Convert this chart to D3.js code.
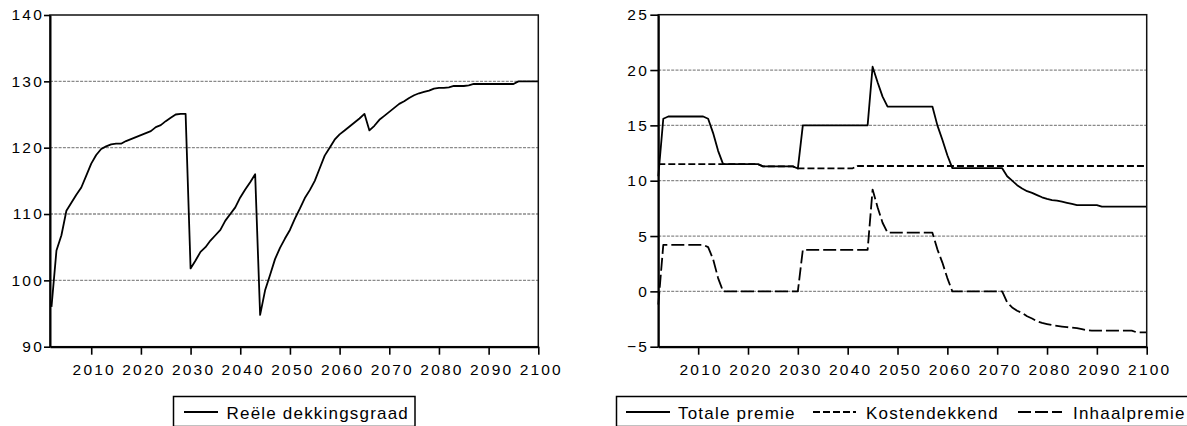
<!DOCTYPE html>
<html><head><meta charset="utf-8">
<script src="https://cdn.jsdelivr.net/npm/d3@7"></script>
<style>
body{margin:0;background:#fff}
svg{display:block}
text{font-family:"Liberation Sans",Arial,sans-serif;fill:#000}
</style>
</head><body>
<svg id="c" width="1187" height="426"></svg>
<script>
// ---------- data ----------
const years = d3.range(2002, 2101);

const dekkingsgraad = [
  96.0,104.5,106.8,110.5,111.7,112.9,114.0,115.8,117.6,118.9,
  119.8,120.2,120.5,120.6,120.6,121.0,121.3,121.6,121.9,122.2,
  122.5,123.1,123.4,124.0,124.5,125.0,125.1,125.1,101.8,103.0,
  104.3,105.0,106.0,106.8,107.6,109.0,110.0,111.0,112.5,113.7,
  114.8,116.0,94.8,98.5,100.8,103.2,104.9,106.3,107.6,109.3,
  110.8,112.4,113.6,115.0,116.9,118.8,120.0,121.2,122.0,122.6,
  123.2,123.8,124.4,125.1,122.6,123.3,124.2,124.8,125.4,126.0,
  126.6,127.0,127.5,127.9,128.2,128.4,128.6,128.9,129.0,129.0,
  129.1,129.3,129.3,129.3,129.4,129.6,129.6,129.6,129.6,129.6,
  129.6,129.6,129.6,129.6,130.0,130.0,130.0,130.0,130.0
];

const totalePremie = [
  10.4,15.6,15.8,15.8,15.8,15.8,15.8,15.8,15.8,15.8,
  15.6,14.3,12.7,11.5,11.5,11.5,11.5,11.5,11.5,11.5,
  11.5,11.3,11.3,11.3,11.3,11.3,11.3,11.3,11.1,15.0,
  15.0,15.0,15.0,15.0,15.0,15.0,15.0,15.0,15.0,15.0,
  15.0,15.0,15.0,20.3,18.9,17.6,16.7,16.7,16.7,16.7,
  16.7,16.7,16.7,16.7,16.7,16.7,15.0,13.7,12.3,11.13,
  11.13,11.13,11.13,11.13,11.13,11.13,11.13,11.13,11.13,11.13,
  10.4,10.0,9.6,9.3,9.05,8.9,8.7,8.5,8.35,8.25,
  8.2,8.1,8.0,7.9,7.8,7.8,7.8,7.8,7.8,7.66,
  7.66,7.66,7.66,7.66,7.66,7.66,7.66,7.66,7.66
];

const kostendekkend = [
  11.5,11.5,11.5,11.5,11.5,11.5,11.5,11.5,11.5,11.5,
  11.5,11.5,11.5,11.5,11.5,11.5,11.5,11.5,11.5,11.5,
  11.5,11.3,11.3,11.3,11.3,11.3,11.3,11.3,11.12,11.12,
  11.12,11.12,11.12,11.12,11.12,11.12,11.12,11.12,11.12,11.12,
  11.33,11.33,11.33,11.33,11.33,11.33,11.33,11.33,11.33,11.33,
  11.33,11.33,11.33,11.33,11.33,11.33,11.33,11.33,11.33,11.33,
  11.33,11.33,11.33,11.33,11.33,11.33,11.33,11.33,11.33,11.33,
  11.33,11.33,11.33,11.33,11.33,11.33,11.33,11.33,11.33,11.33,
  11.33,11.33,11.33,11.33,11.33,11.33,11.33,11.33,11.33,11.33,
  11.33,11.33,11.33,11.33,11.33,11.33,11.33,11.33,11.33
];

const inhaalpremie = [
  -1.2,4.2,4.2,4.2,4.2,4.2,4.2,4.2,4.2,4.2,
  4.0,2.9,1.2,0,0,0,0,0,0,0,
  0,0,0,0,0,0,0,0,0,3.75,
  3.75,3.75,3.75,3.75,3.75,3.75,3.75,3.75,3.75,3.75,
  3.75,3.75,3.75,9.2,7.6,6.2,5.3,5.3,5.3,5.3,
  5.3,5.3,5.3,5.3,5.3,5.3,3.8,2.6,1.2,0,
  0,0,0,0,0,0,0,0,0,0,
  -1.0,-1.45,-1.75,-1.95,-2.25,-2.45,-2.7,-2.85,-2.95,-3.05,
  -3.12,-3.18,-3.23,-3.28,-3.33,-3.42,-3.5,-3.55,-3.55,-3.55,
  -3.55,-3.55,-3.55,-3.55,-3.55,-3.55,-3.7,-3.7,-3.7
];

const xTickValues = [2010,2020,2030,2040,2050,2060,2070,2080,2090,2100];
const leftYTicks = [90,100,110,120,130,140];
const rightYTicks = [-5,0,5,10,15,20,25];
const leftLegendLabels = ["Reële dekkingsgraad"];
const rightLegendLabels = ["Totale premie","Kostendekkend","Inhaalpremie"];

// ---------- drawing ----------
const svg = d3.select("#c");

function panel(o) {
  const g = svg.append("g");
  const x = d3.scaleLinear().domain([o.x0, 2100]).range([o.L, o.R]);
  const y = d3.scaleLinear().domain([o.yTicks[0], o.yTicks[o.yTicks.length-1]]).range([o.B, o.T]);

  // gridlines
  g.append("g").selectAll("line")
    .data(o.yTicks.slice(1, -1)).join("line")
    .attr("x1", o.L).attr("x2", o.R)
    .attr("y1", d => y(d)).attr("y2", d => y(d))
    .attr("stroke", "#8a8a8a").attr("stroke-width", 1.3)
    .attr("stroke-dasharray", "3,1.3");

  // series
  o.series.forEach(s => {
    const line = d3.line().x((d, i) => x(years[i])).y(d => y(d));
    g.append("path").datum(s.values)
      .attr("d", line).attr("fill", "none")
      .attr("stroke", "#000").attr("stroke-width", 1.8)
      .attr("stroke-linejoin", "round")
      .attr("stroke-dasharray", s.dash || null);
  });

  // frame
  g.append("rect").attr("x", o.L).attr("y", o.T)
    .attr("width", o.R - o.L).attr("height", o.B - o.T)
    .attr("fill", "none").attr("stroke", "#111").attr("stroke-width", 1.5);

  // axes
  const ax = g.append("g").attr("transform", `translate(0,${o.B})`)
    .call(d3.axisBottom(x).tickValues(xTickValues).tickFormat(d3.format("d"))
      .tickSize(8).tickPadding(9).tickSizeOuter(0));
  const ay = g.append("g").attr("transform", `translate(${o.L},0)`)
    .call(d3.axisLeft(y).tickValues(o.yTicks).tickFormat(d3.format("d"))
      .tickSize(o.tickY).tickPadding(o.padY).tickSizeOuter(0));
  [ax, ay].forEach(a => {
    a.select(".domain").attr("stroke", "#000").attr("stroke-width", 2);
    a.selectAll(".tick line").attr("stroke", "#000").attr("stroke-width", 1.6);
    a.selectAll("text").attr("font-family", '"Liberation Sans",Arial,sans-serif')
      .attr("font-size", 15.5).attr("letter-spacing", "2.2px").attr("fill", "#000");
  });
  ax.selectAll("text").attr("dx", 2.5);

  // legend
  const lg = g.append("g");
  lg.append("rect").attr("x", o.legend.x).attr("y", 396.5)
    .attr("width", o.legend.w).attr("height", 30)
    .attr("fill", "none").attr("stroke", "#000").attr("stroke-width", 1.5);
  o.legend.items.forEach((it, i) => {
    lg.append("line").attr("x1", it.x1).attr("x2", it.x2)
      .attr("y1", 412).attr("y2", 412)
      .attr("stroke", "#000").attr("stroke-width", 1.8)
      .attr("stroke-dasharray", o.series[i].dash || null);
    lg.append("text").attr("x", it.tx).attr("y", 419)
      .attr("font-size", 17).attr("letter-spacing", "1.2px")
      .text(o.legendLabels[i]);
  });
}

panel({
  L: 50, R: 538.3, T: 15, B: 346.7, x0: 2001.7,
  yTicks: leftYTicks, tickY: 6, padY: 0,
  series: [{values: dekkingsgraad}],
  legendLabels: leftLegendLabels,
  legend: {x: 173.5, w: 241.5, items: [{x1: 184, x2: 218, tx: 226.5}]}
});

panel({
  L: 658.3, R: 1146.7, T: 14.7, B: 346.7, x0: 2002,
  yTicks: rightYTicks, tickY: 8, padY: 1.3,
  series: [
    {values: totalePremie},
    {values: kostendekkend, dash: "7,3"},
    {values: inhaalpremie, dash: "13,4"}
  ],
  legendLabels: rightLegendLabels,
  legend: {x: 616.5, w: 620, items: [
    {x1: 626, x2: 670, tx: 678},
    {x1: 813, x2: 856, tx: 866},
    {x1: 1018, x2: 1062, tx: 1073}
  ]}
});
</script>
</body></html>
